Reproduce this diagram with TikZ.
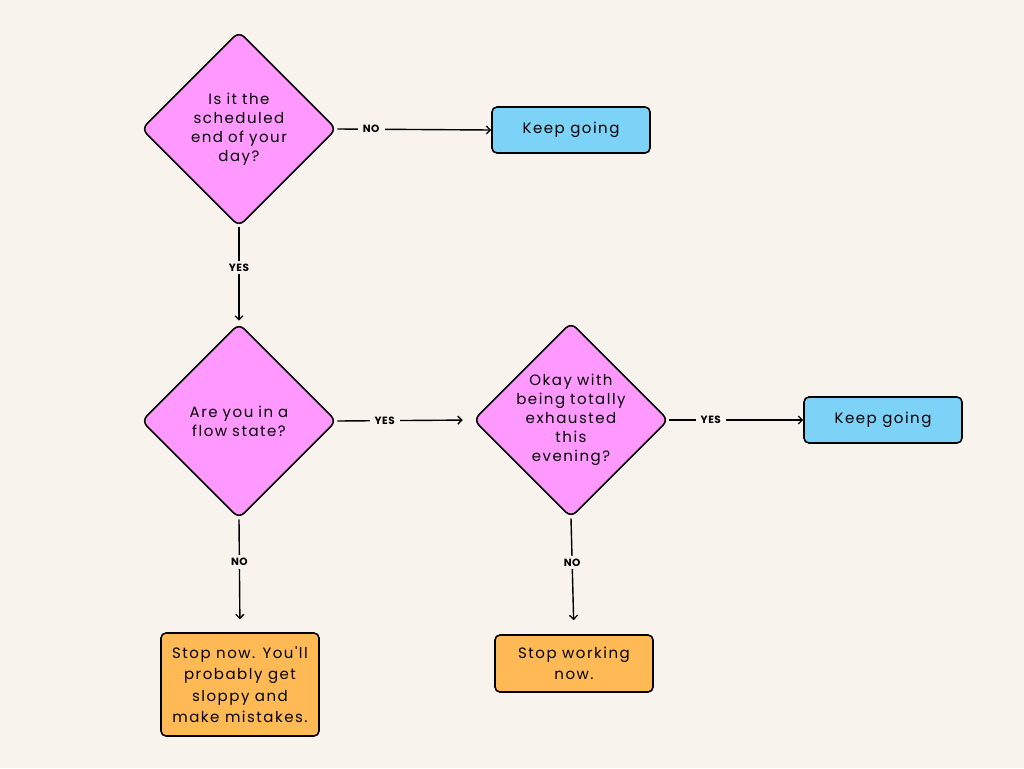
\documentclass[tikz,border=0pt]{standalone}
\usepackage{fontspec}
\setmainfont{Poppins}[LetterSpace=10,Ligatures=TeXOff]
\newfontfamily\lblfont{Poppins}[LetterSpace=5,FontFace={b}{n}{Poppins Bold}]
\usetikzlibrary{shapes.geometric,arrows.meta}
\definecolor{bgc}{RGB}{248,243,236}
\definecolor{pinkc}{RGB}{255,153,255}
\definecolor{bluec}{RGB}{125,211,247}
\definecolor{orangec}{RGB}{255,186,85}
\tikzset{
  decision/.style={diamond,aspect=1,draw=black,line width=1.6pt,fill=pinkc,rounded corners=7pt,minimum width=195pt,minimum height=195pt,inner sep=0pt},
  dtext/.style={align=center,font=\fontsize{15}{19}\selectfont,inner sep=0pt,text width=130pt},
  outbox/.style={rectangle,draw=black,line width=1.6pt,rounded corners=5pt,minimum width=158pt,align=center,font=\fontsize{15}{21.5}\selectfont,inner sep=0pt},
  keepbox/.style={outbox,fill=bluec,minimum height=46pt},
  stopbox/.style={outbox,fill=orangec},
  conn/.style={draw=black,line width=1.4pt,-{Straight Barb[length=4pt,width=8pt,line width=1.3pt]}},
  lbl/.style={fill=bgc,inner xsep=5pt,inner ysep=3pt,font=\lblfont\bfseries\fontsize{10.5}{11}\selectfont}
}
\begin{document}
\begin{tikzpicture}[x=1pt,y=-1pt]
\fill[bgc] (0,0) rectangle (1024,768);
\useasboundingbox (0,0) rectangle (1024,768);
\node[decision,label={[dtext]center:Is it the\\scheduled\\end of your\\day?}] (d1) at (239,129) {};
\node[decision,label={[dtext]center:Are you in a\\flow state?}] (d2) at (239,421) {};
\node[decision,label={[dtext]center:Okay with\\being totally\\exhausted\\this\\evening?}] (d3) at (571,420) {};
\node[keepbox] (k1) at (571,130) {Keep going};
\node[keepbox] (k2) at (883,420) {Keep going};
\node[stopbox,minimum height=103pt] (s1) at (240,684.5) {Stop now. You'll\\probably get\\sloppy and\\make mistakes.};
\node[stopbox,minimum height=57pt] (s2) at (574,663.5) {Stop working\\now.};
\draw[conn] (d1.east) -- node[lbl,pos=0.22]{NO} (k1.west);
\draw[conn,shorten >=2pt] (d1.south) -- node[lbl,pos=0.42]{YES} (d2.north);
\draw[conn,shorten >=10pt] (d2.east) -- node[lbl,pos=0.35]{YES} (d3.west);
\draw[conn] (d3.east) -- node[lbl,pos=0.31]{YES} (k2.west);
\draw[conn,shorten >=13pt] (d2.south) -- node[lbl,pos=0.38]{NO} (s1.north);
\draw[conn,shorten >=14pt] (d3.south) -- node[lbl,pos=0.38]{NO} (s2.north);
\end{tikzpicture}
\end{document}
